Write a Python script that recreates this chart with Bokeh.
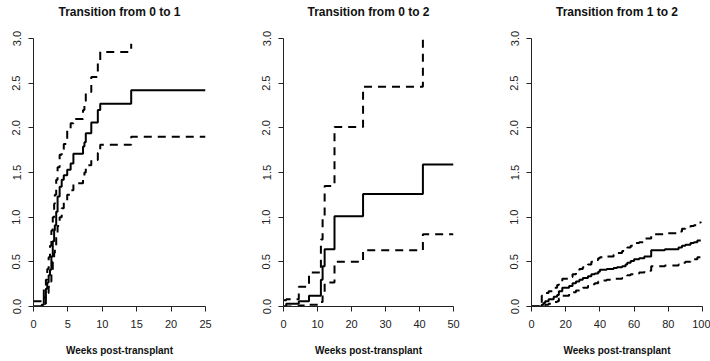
from bokeh.plotting import figure
from bokeh.layouts import row
from bokeh.models import Range1d, FixedTicker, Title
from bokeh.embed import file_html
from bokeh.resources import INLINE

# ---------------- data ----------------
titles = ["Transition from 0 to 1", "Transition from 0 to 2", "Transition from 1 to 2"]
x_label = "Weeks post-transplant"

y_ticks = [0.0, 0.5, 1.0, 1.5, 2.0, 2.5, 3.0]
y_tick_labels = ["0.0", "0.5", "1.0", "1.5", "2.0", "2.5", "3.0"]

x_ticks1 = [0, 5, 10, 15, 20, 25]
x_ticks2 = [0, 10, 20, 30, 40, 50]
x_ticks3 = [0, 20, 40, 60, 80, 100]

# Transition 0 -> 1
times1 = [0, 1.2, 1.5, 1.8, 2.0, 2.2, 2.4, 2.6, 2.8, 3.0, 3.1, 3.3, 3.5, 3.8, 4.1,
          4.4, 4.9, 5.4, 5.8, 7.2, 7.4, 7.6, 8.4, 9.35, 9.7, 14.2, 25]
est1 = [0, 0.02, 0.1, 0.2, 0.27, 0.35, 0.41, 0.56, 0.73, 0.85, 0.91, 1.06, 1.23, 1.34, 1.42,
        1.47, 1.53, 1.6, 1.71, 1.79, 1.84, 1.94, 2.06, 2.2, 2.27, 2.42, 2.42]
upper1 = [0.06, 0.1, 0.2, 0.3, 0.42, 0.55, 0.68, 0.85, 1.0, 1.15, 1.25, 1.42, 1.56, 1.7, 1.76,
          1.82, 1.97, 2.05, 2.1, 2.2, 2.3, 2.4, 2.57, 2.74, 2.85, 2.94]
lower1 = [0, 0, 0.03, 0.1, 0.15, 0.22, 0.28, 0.38, 0.5, 0.6, 0.66, 0.78, 0.9, 1.0, 1.1,
          1.17, 1.25, 1.3, 1.38, 1.45, 1.5, 1.58, 1.64, 1.72, 1.81, 1.9, 1.9]

# Transition 0 -> 2
times2 = [0, 0.8, 4.5, 7.5, 11.0, 11.5, 12.1, 15.0, 23.4, 41.0, 50]
est2 = [0, 0.03, 0.06, 0.12, 0.3, 0.45, 0.64, 1.01, 1.26, 1.59, 1.59]
upper2 = [0.07, 0.08, 0.22, 0.38, 0.75, 1.0, 1.35, 2.01, 2.46, 3.0]
lower2 = [0, 0, 0.01, 0.02, 0.05, 0.15, 0.27, 0.5, 0.63, 0.81, 0.81]

# Transition 1 -> 2
times3 = [0, 6, 7, 8, 10, 13, 15, 16, 18, 22, 24, 26, 28, 30, 33, 35, 37, 39, 40, 44,
          48, 50, 53, 55, 56, 58, 60, 63, 66, 70, 78, 86, 88, 90, 93, 95, 97, 99]
est3 = [0, 0.02, 0.04, 0.06, 0.08, 0.11, 0.13, 0.17, 0.21, 0.23, 0.26, 0.28, 0.30, 0.32,
        0.34, 0.36, 0.37, 0.39, 0.41, 0.42, 0.43, 0.44, 0.45, 0.47, 0.49, 0.51, 0.53, 0.54,
        0.56, 0.63, 0.64, 0.66, 0.68, 0.69, 0.71, 0.72, 0.74, 0.74]
upper3 = [0, 0.12, 0.13, 0.15, 0.17, 0.21, 0.24, 0.28, 0.31, 0.33, 0.36, 0.39, 0.42, 0.44,
          0.47, 0.5, 0.52, 0.54, 0.55, 0.56, 0.58, 0.6, 0.62, 0.64, 0.66, 0.68, 0.71, 0.72,
          0.76, 0.81, 0.82, 0.84, 0.87, 0.88, 0.9, 0.91, 0.94, 0.95]
lower3 = [0, 0.0, 0.01, 0.02, 0.03, 0.05, 0.06, 0.09, 0.12, 0.14, 0.16, 0.18, 0.2, 0.21,
          0.23, 0.25, 0.26, 0.28, 0.29, 0.3, 0.31, 0.31, 0.32, 0.33, 0.35, 0.36, 0.37, 0.38,
          0.4, 0.45, 0.46, 0.47, 0.49, 0.5, 0.52, 0.53, 0.55, 0.56]

FONT = "Liberation Sans"


def make_panel(title, xticks, times, est, upper, lower, width, left, right):
    p = figure(width=width, height=358, output_backend="svg", toolbar_location=None,
               x_range=Range1d(xticks[0], xticks[-1]), y_range=Range1d(0, 3),
               min_border_left=left, min_border_right=right,
               min_border_top=38, min_border_bottom=51, title_location=None)
    p.outline_line_color = None
    p.xgrid.visible = False
    p.ygrid.visible = False
    p.background_fill_color = "white"

    # spacer between the frame and the title (closest to the frame)
    p.add_layout(Title(text=" ", text_font_size="1px", standoff=15, text_color="white"),
                 "above")
    p.add_layout(Title(text=title, align="center", text_font=FONT, text_font_size="12px",
                       text_font_style="bold", text_color="#111111", standoff=4), "above")

    for ax in (p.xaxis[0], p.yaxis[0]):
        ax.axis_line_color = "#222222"
        ax.axis_line_width = 1
        ax.major_tick_line_color = "#222222"
        ax.major_tick_out = 5
        ax.major_tick_in = 0
        ax.minor_tick_line_color = None
        ax.major_label_text_font = FONT
        ax.major_label_text_font_size = "11px"
        ax.major_label_text_color = "#222222"

    p.xaxis[0].ticker = FixedTicker(ticks=xticks)
    p.xaxis[0].major_label_standoff = 8
    p.xaxis[0].axis_label = x_label
    p.xaxis[0].axis_label_text_font = FONT
    p.xaxis[0].axis_label_text_font_size = "10px"
    p.xaxis[0].axis_label_text_font_style = "bold"
    p.xaxis[0].axis_label_text_color = "#111111"
    p.xaxis[0].axis_label_standoff = 14

    p.yaxis[0].ticker = FixedTicker(ticks=y_ticks)
    p.yaxis[0].major_label_overrides = {t: s for t, s in zip(y_ticks, y_tick_labels)}
    p.yaxis[0].major_label_orientation = "vertical"
    p.yaxis[0].major_label_standoff = 8

    p.step(times, est, mode="after", line_color="black", line_width=2)
    p.step(times[:len(upper)], upper, mode="after", line_color="black", line_width=2,
           line_dash="8 6")
    p.step(times[:len(lower)], lower, mode="after", line_color="black", line_width=2,
           line_dash="8 6")
    return p


p1 = make_panel(titles[0], x_ticks1, times1, est1, upper1, lower1, 240, 33, 35)
p2 = make_panel(titles[1], x_ticks2, times2, est2, upper2, lower2, 250, 43, 37)
p3 = make_panel(titles[2], x_ticks3, times3, est3, upper3, lower3, 220, 41, 8)

layout = row(p1, p2, p3)
open("out.html", "w").write(file_html(layout, INLINE))
